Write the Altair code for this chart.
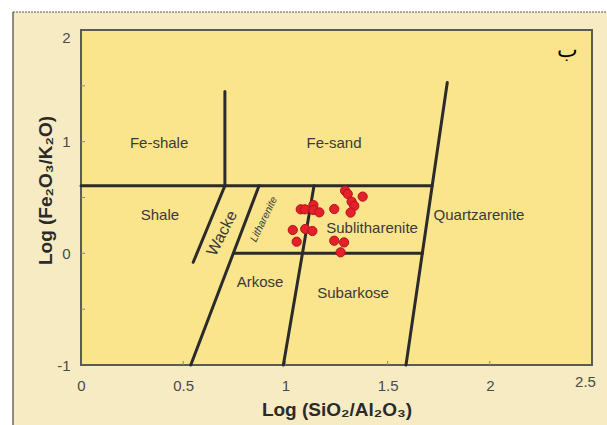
import altair as alt
import pandas as pd

# Sample compositions: log(SiO2/Al2O3) vs log(Fe2O3/K2O)
sio2_al2o3 = [1.292, 1.305, 1.378, 1.324, 1.337, 1.319, 1.137, 1.075, 1.096, 1.137,
              1.166, 1.239, 1.036, 1.097, 1.132, 1.055, 1.239, 1.287, 1.270]
fe2o3_k2o = [0.561, 0.532, 0.508, 0.463, 0.425, 0.365, 0.432, 0.394, 0.394, 0.388,
             0.367, 0.397, 0.209, 0.218, 0.200, 0.104, 0.113, 0.098, 0.009]

# Classification field boundaries (Herron 1988), start and end points
seg_x1 = [0.0, 0.704, 1.792, 0.704, 0.871, 1.14, 0.748]
seg_y1 = [0.605, 1.45, 1.53, 0.605, 0.605, 0.605, 0.0]
seg_x2 = [1.718, 0.704, 1.59, 0.549, 0.537, 0.99, 1.67]
seg_y2 = [0.605, 0.605, -1.0, -0.08, -1.0, -1.0, 0.0]

# Field names
field_names = ["Fe-shale", "Fe-sand", "Shale", "Quartzarenite", "Sublitharenite", "Arkose", "Subarkose"]
field_x = [0.382, 1.238, 0.386, 1.947, 1.424, 0.876, 1.331]
field_y = [0.988, 0.988, 0.343, 0.343, 0.227, -0.257, -0.355]

# Axis ticks
x_ticks = [0, 0.5, 1, 1.5, 2, 2.5]
y_ticks = [-1, 0, 1, 2]
x_minor = [0.5, 1, 1.5, 2]
y_minor = [-0.5, 0, 0.5, 1, 1.5]

FONT = "Liberation Sans, Arial, sans-serif"
LINE = "#2b2b2b"
TEXT = "#3a3a3a"

xs = alt.Scale(domain=[0, 2.5], nice=False, zero=False)
ys = alt.Scale(domain=[-1, 2], nice=False, zero=False)

pts = pd.DataFrame({"x": sio2_al2o3, "y": fe2o3_k2o})
segs = pd.DataFrame({"x": seg_x1, "y": seg_y1, "x2": seg_x2, "y2": seg_y2})
fields = pd.DataFrame({"name": field_names, "x": field_x, "y": field_y})
one = pd.DataFrame({"k": [0]})

x_axis = alt.Axis(
    values=x_ticks, labelExpr="'' + datum.value", grid=False, domain=False, ticks=False,
    labelFlush=False,
    labelFont=FONT, labelFontSize=15, labelColor="#4a4a4a",
    labelPadding={"condition": {"test": "datum.value == 2.5", "value": 9}, "value": 13},
    labelOffset={"condition": {"test": "datum.value == 2.5", "value": -7}, "value": 0},
    labelBaseline="top",
    title="Log (SiO₂/Al₂O₃)", titleFont=FONT, titleFontSize=19, titleFontWeight="bold",
    titleColor="#2a2a2a", titleY=44, titleBaseline="middle", zindex=1,
)
y_axis = alt.Axis(
    values=y_ticks, labelExpr="'' + datum.value", grid=False, domain=False, ticks=False,
    labelFlush=False,
    labelFont=FONT, labelFontSize=15, labelColor="#4a4a4a", labelPadding=11,
    labelBaseline={"condition": {"test": "datum.value == 2", "value": "top"}, "value": "middle"},
    title="Log (Fe₂O₃/K₂O)", titleFont=FONT, titleFontSize=19, titleFontWeight="bold",
    titleColor="#2a2a2a", titleX=-36, titleY=160, titleBaseline="middle", titleAngle=270,
    zindex=1,
)

# Page frame: white margins with a dashed top edge and a solid left edge
left_strip = alt.Chart(one).mark_rect(color="white").encode(
    x=alt.value(-81), x2=alt.value(-68), y=alt.value(-30), y2=alt.value(395))
top_strip = alt.Chart(one).mark_rect(color="white").encode(
    x=alt.value(-81), x2=alt.value(526), y=alt.value(-30), y2=alt.value(-18))
top_edge = alt.Chart(one).mark_rule(color="#555555", strokeDash=[2, 1], strokeWidth=1).encode(
    x=alt.value(-68), x2=alt.value(526), y=alt.value(-18))
left_edge = alt.Chart(one).mark_rule(color="#444444", strokeWidth=1.2).encode(
    x=alt.value(-68), y=alt.value(-18), y2=alt.value(395))

# Inner tick marks
xt = alt.Chart(pd.DataFrame({"v": x_minor})).mark_rule(color="#8a8a6a", strokeWidth=1).encode(
    x=alt.X("v:Q", scale=xs, axis=x_axis), y=alt.value(335), y2=alt.value(331))
yt = alt.Chart(pd.DataFrame({"v": y_minor})).mark_rule(color="#8a8a6a", strokeWidth=1).encode(
    y=alt.Y("v:Q", scale=ys, axis=y_axis), x=alt.value(0), x2=alt.value(4))

lines = alt.Chart(segs).mark_rule(color=LINE, strokeWidth=3, strokeCap="round").encode(
    x=alt.X("x:Q", scale=xs), y=alt.Y("y:Q", scale=ys), x2="x2:Q", y2="y2:Q")

labels = alt.Chart(fields).mark_text(font=FONT, fontSize=15, color=TEXT).encode(
    x=alt.X("x:Q", scale=xs), y=alt.Y("y:Q", scale=ys), text="name:N")

wacke = alt.Chart(pd.DataFrame({"name": ["Wacke"], "x": [0.69], "y": [0.18]})).mark_text(
    font=FONT, fontSize=16, color=TEXT, angle=297).encode(
    x=alt.X("x:Q", scale=xs), y=alt.Y("y:Q", scale=ys), text="name:N")

lith = alt.Chart(pd.DataFrame({"name": ["Litharenite"], "x": [0.895], "y": [0.304]})).mark_text(
    font=FONT, fontSize=10.5, color=TEXT, angle=296, fontStyle="italic").encode(
    x=alt.X("x:Q", scale=xs), y=alt.Y("y:Q", scale=ys), text="name:N")

panel = alt.Chart(pd.DataFrame({"name": ["ب"], "x": [2.378], "y": [1.82]})).mark_text(
    font="Liberation Serif, DejaVu Serif, serif", fontSize=22, color="black").encode(
    x=alt.X("x:Q", scale=xs), y=alt.Y("y:Q", scale=ys), text="name:N")

points = alt.Chart(pts).mark_circle(size=85, opacity=1, color="#e5202a",
                                    stroke="#b3141c", strokeWidth=1).encode(
    x=alt.X("x:Q", scale=xs), y=alt.Y("y:Q", scale=ys))

chart = alt.layer(
    left_strip, top_strip, top_edge, left_edge,
    xt, yt, lines, labels, wacke, lith, panel, points,
).properties(
    width=511, height=335,
    autosize=alt.AutoSizeParams(type="none"),
    padding={"left": 81, "top": 30, "right": 15, "bottom": 60},
    background="#f7ebc3",
).configure_view(
    fill="#fae48c", stroke="#5a5a5a", strokeWidth=2,
)

chart.save("out.html", embed_options={"renderer": "svg", "actions": False})
